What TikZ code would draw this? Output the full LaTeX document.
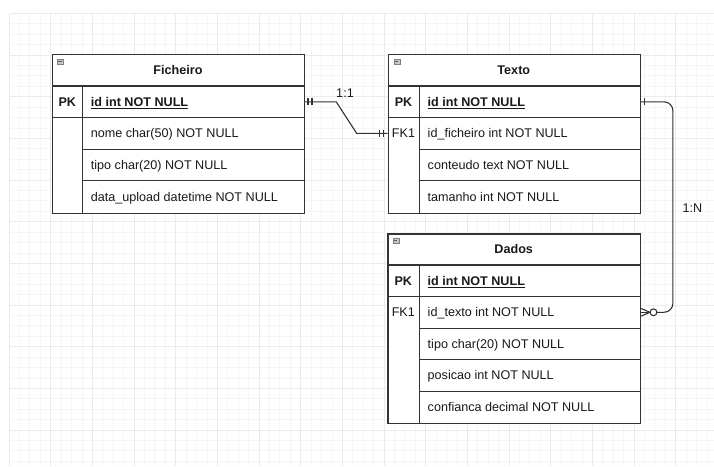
\documentclass[tikz,border=0pt]{standalone}
\usepackage{fontspec}
\setmainfont{Liberation Sans}
\begin{document}
\begin{tikzpicture}[x=1pt,y=-1pt,
  gridminor/.style={draw=black!4, line width=0.7pt},
  gridmajor/.style={draw=black!8, line width=0.8pt},
  tbl/.style={draw=black!80, line width=1.2pt, anchor=north west, inner sep=0pt, fill=white},
  tline/.style={draw=black!80, line width=1.1pt},
  txtbase/.style={inner sep=0pt, text height=9pt, text depth=0pt, font=\fontsize{12.6pt}{15pt}\selectfont, text=black!90},
  hdr/.style={txtbase, font=\fontsize{12.6pt}{15pt}\selectfont\bfseries},
  keyb/.style={txtbase, font=\fontsize{12.6pt}{15pt}\selectfont\bfseries},
  keyn/.style={txtbase},
  fld/.style={txtbase, anchor=west},
  lbl/.style={txtbase},
  conn/.style={draw=black!80, line width=1.1pt},
  icon/.style={draw=black!50, fill=black!22, line width=0.6pt, minimum width=6pt, minimum height=5.5pt, inner sep=0pt, anchor=north west}
]
\useasboundingbox (0,0) rectangle (714,466);
\fill[white] (0,0) rectangle (714,466);
% grid
\foreach \i in {0,...,67} \draw[gridminor] ({9+10.4167*\i},13.3) -- ({9+10.4167*\i},466);
\foreach \j in {0,...,43} \draw[gridminor] (9,{13.3+10.4167*\j}) -- (714,{13.3+10.4167*\j});
\foreach \i in {0,...,16} \draw[gridmajor] ({9+41.667*\i},13.3) -- ({9+41.667*\i},466);
\foreach \j in {0,...,10} \draw[gridmajor] (9,{13.3+41.667*\j}) -- (714,{13.3+41.667*\j});

% ---------- Ficheiro ----------
\node[tbl, minimum width=252pt, minimum height=158.5pt] (fic) at (52,54) {};
\draw[tline] (52,86) -- (304,86);
\draw[tline] (52,117.6) -- (304,117.6);
\draw[tline] (82.7,86) -- (82.7,212.5);
\draw[tline] (82.7,149.2) -- (304,149.2);
\draw[tline] (82.7,180.8) -- (304,180.8);
\node[icon] (fic-ic) at (57,58.5) {};
\draw[black!65, line width=0.7pt] (58.2,61.2) -- (61.8,61.2);
\node[hdr] (fic-h) at (178,70) {Ficheiro};
\node[keyb] (fic-pk) at (67.3,101.8) {PK};
\node[fld] (fic-id) at (90.7,101.8) {\bfseries\underline{id int NOT NULL}};
\node[fld] (fic-nome) at (90.7,133.4) {nome char(50) NOT NULL};
\node[fld] (fic-tipo) at (90.7,165) {tipo char(20) NOT NULL};
\node[fld] (fic-data) at (90.7,196.6) {data\_upload datetime NOT NULL};

% ---------- Texto ----------
\node[tbl, minimum width=252.3pt, minimum height=158.5pt] (txt) at (387.7,54) {};
\draw[tline] (387.7,86) -- (640,86);
\draw[tline] (387.7,117.6) -- (640,117.6);
\draw[tline] (419.3,86) -- (419.3,212.5);
\draw[tline] (419.3,149.2) -- (640,149.2);
\draw[tline] (419.3,180.8) -- (640,180.8);
\node[icon] (txt-ic) at (393.5,58.5) {};
\draw[black!65, line width=0.7pt] (394.7,61.2) -- (398.3,61.2);
\node[hdr] (txt-h) at (513.8,70) {Texto};
\node[keyb] (txt-pk) at (403.5,101.8) {PK};
\node[fld] (txt-id) at (427.5,101.8) {\bfseries\underline{id int NOT NULL}};
\node[keyn] (txt-fk1) at (403.5,133.4) {FK1};
\node[fld] (txt-fk) at (427.5,133.4) {id\_ficheiro int NOT NULL};
\node[fld] (txt-cont) at (427.5,165) {conteudo text NOT NULL};
\node[fld] (txt-tam) at (427.5,196.6) {tamanho int NOT NULL};

% ---------- Dados ----------
\node[tbl, minimum width=252.7pt, minimum height=189.4pt] (dad) at (387.3,233.3) {};
\draw[tline] (387.3,265) -- (640,265);
\draw[tline] (387.3,296.5) -- (640,296.5);
\draw[tline] (419.3,265) -- (419.3,422.7);
\draw[tline] (419.3,328.1) -- (640,328.1);
\draw[tline] (419.3,359.6) -- (640,359.6);
\draw[tline] (419.3,391.2) -- (640,391.2);
\node[icon] (dad-ic) at (392.5,237.8) {};
\draw[black!65, line width=0.7pt] (393.7,240.5) -- (397.3,240.5);
\node[hdr] (dad-h) at (513.7,249.2) {Dados};
\node[keyb] (dad-pk) at (403.3,280.8) {PK};
\node[fld] (dad-id) at (427.5,280.8) {\bfseries\underline{id int NOT NULL}};
\node[keyn] (dad-fk1) at (403.3,312.3) {FK1};
\node[fld] (dad-fk) at (427.5,312.3) {id\_texto int NOT NULL};
\node[fld] (dad-tipo) at (427.5,343.9) {tipo char(20) NOT NULL};
\node[fld] (dad-pos) at (427.5,375.4) {posicao int NOT NULL};
\node[fld] (dad-conf) at (427.5,407) {confianca decimal NOT NULL};

% ---------- Connector 1:1 ----------
\coordinate (a1) at (fic.east |- fic-id);
\coordinate (a2) at (txt.west |- txt-fk);
\draw[conn] (a1) -- ++(31,0) -- ([xshift=-31pt]a2) -- (a2);
\draw[conn] ([xshift=2.8pt]a1) ++(0,-3.6) -- ++(0,7.2);
\draw[conn] ([xshift=6.8pt]a1) ++(0,-3.6) -- ++(0,7.2);
\draw[conn] ([xshift=-4.5pt]a2) ++(0,-3.6) -- ++(0,7.2);
\draw[conn] ([xshift=-8.5pt]a2) ++(0,-3.6) -- ++(0,7.2);
\node[lbl] (l11) at (345,92.6) {1:1};

% ---------- Connector 1:N ----------
\coordinate (b1) at (txt.east |- txt-id);
\coordinate (b2) at (dad.east |- dad-fk);
\draw[conn, rounded corners=9pt] (b1) -- ++(31.7,0) |- ([xshift=12.3pt]b2);
\draw[conn] ([xshift=8.7pt]b2) -- (b2);
\draw[conn] ([xshift=3.4pt]b1) ++(0,-3.6) -- ++(0,7.2);
\draw[conn, fill=white] ([xshift=12.3pt]b2) circle (3.4pt);
\draw[conn] ([xshift=8.7pt]b2) -- ([yshift=-3.8pt]b2);
\draw[conn] ([xshift=8.7pt]b2) -- ([yshift=3.8pt]b2);
\node[lbl] (l1n) at (692.3,207.5) {1:N};
\end{tikzpicture}
\end{document}
